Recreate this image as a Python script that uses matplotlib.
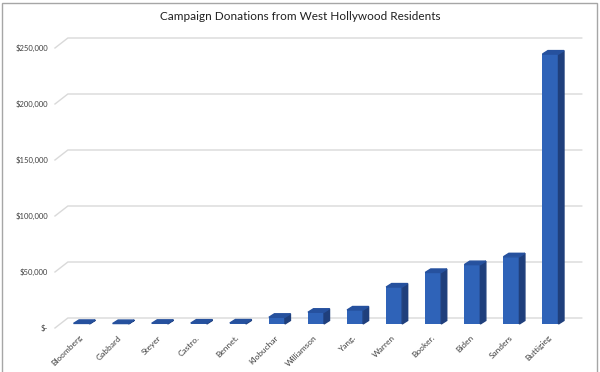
import matplotlib.pyplot as plt
from matplotlib.patches import Polygon, Rectangle
import numpy as np

names = ['Bloomberg', 'Gabbard', 'Steyer', 'Castro.', 'Bennet.', 'Klobuchar',
         'Williamson', 'Yang.', 'Warren', 'Booker.', 'Biden', 'Sanders', 'Buttigieg']
donations = [500, 400, 600, 800, 900, 6000, 10500, 12500, 33000, 46000, 53000, 60000, 241000]
ticks = [0, 50000, 100000, 150000, 200000, 250000]
tick_labels = ['$-', '$50,000', '$100,000', '$150,000', '$200,000', '$250,000']

plt.rcParams['font.family'] = ['Lato', 'DejaVu Sans']

W, H = 600, 372
fig = plt.figure(figsize=(6, 3.72), dpi=100)
# axes in pixel terms: x -0.5 at 62px, 12.5 at 570px; y 0 at 328px from top
left, right = 62, 570
bot, top = 372 - 328, 372 - 35
ax = fig.add_axes([left / W, bot / H, (right - left) / W, (top - bot) / H])
ymax = 250000 * (top - bot) / 280
ax.set_xlim(-0.5, 12.5)
ax.set_ylim(0, ymax)
for s in ax.spines.values():
    s.set_visible(False)

px_y = 250000 / 280          # data units per pixel (y)
px_x = 1 / 39                # data units per pixel (x)

# back wall gridlines with slanted floor edge
back = 10 * px_y
for v in ticks:
    ax.plot([-0.68, -0.35, 12.8], [v, v + back, v + back], color='#d9d9d9',
            lw=1, clip_on=False, zorder=1)

# 3D-looking bars
base = 4 * px_y
bw = 16 * px_x
dx = 5.5 * px_x
dy = 3.5 * px_y
x = np.arange(len(names))
ax.bar(x, donations, width=bw, bottom=base, color='#2f63b8', zorder=3)
for xi, v in zip(x, donations):
    x0, x1 = xi - bw / 2, xi + bw / 2
    y0, y1 = base, base + v
    side = Polygon([(x1, y0), (x1 + dx, y0 + dy), (x1 + dx, y1 + dy), (x1, y1)],
                   closed=True, color='#1f3f7c', zorder=3, clip_on=False)
    topf = Polygon([(x0, y1), (x0 + dx, y1 + dy), (x1 + dx, y1 + dy), (x1, y1)],
                   closed=True, color='#26519e', zorder=3, clip_on=False)
    ax.add_patch(side)
    ax.add_patch(topf)

ax.set_yticks(ticks)
ax.set_yticklabels(tick_labels, fontsize=5.5, color='#404040')
ax.tick_params(axis='y', length=0, pad=10)
ax.set_xticks(x)
ax.set_xticklabels(names, fontsize=6, color='#404040', rotation=45,
                   ha='right', va='center', rotation_mode='anchor')
ax.tick_params(axis='x', length=0, pad=6)

fig.text(0.5, 1 - 16 / H, 'Campaign Donations from West Hollywood Residents',
         ha='center', va='center', fontsize=8.5, color='#202020')

fig.patches.append(Rectangle((2 / W, -0.01), 595 / W, 1 - 3 / H + 0.01,
                             transform=fig.transFigure, fill=False,
                             edgecolor='#a6a6a6', lw=1))

plt.savefig('out.png', dpi=100)
